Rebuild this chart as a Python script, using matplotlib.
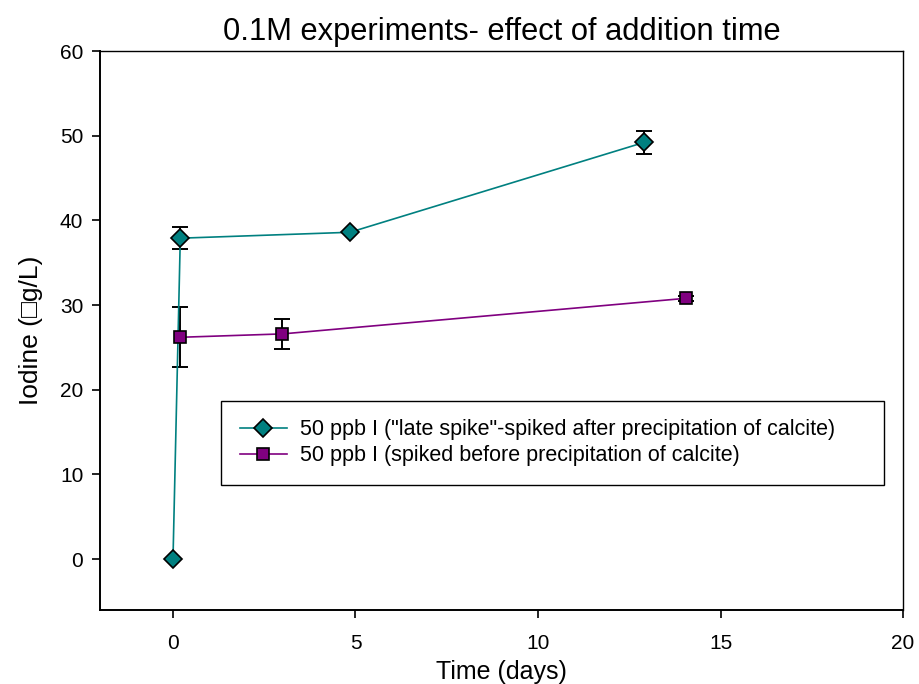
import matplotlib
matplotlib.use("Agg")
import matplotlib.pyplot as plt

plt.rcParams["font.family"] = ["Liberation Sans", "DejaVu Sans"]

# late spike series (teal diamonds)
late_t = [0.0, 0.2, 4.85, 12.9]
late_i = [0.0, 37.9, 38.6, 49.2]
late_err = [0.0, 1.3, 0.0, 1.4]

# spiked before precipitation (purple squares)
early_t = [0.2, 3.0, 14.05]
early_i = [26.2, 26.6, 30.8]
early_err = [3.55, 1.75, 0.3]

LATE_LABEL = '50 ppb I ("late spike"-spiked after precipitation of calcite)'
EARLY_LABEL = "50 ppb I (spiked before precipitation of calcite)"


def main():
    fig = plt.figure(figsize=(9.19, 6.84), dpi=100)
    ax = fig.add_axes([0.1088, 0.1082, 0.8738, 0.8172])

    ax.errorbar(late_t, late_i, yerr=late_err, fmt="none", ecolor="black",
                elinewidth=1.4, capsize=5.5, capthick=1.4, zorder=2)
    ax.errorbar(early_t, early_i, yerr=early_err, fmt="none", ecolor="black",
                elinewidth=1.4, capsize=5.5, capthick=1.4, zorder=2)
    ax.plot(late_t, late_i, color="#008080", lw=1.2, marker="D", ms=9,
            mfc="#008080", mec="black", mew=1.2, label=LATE_LABEL, zorder=3)
    ax.plot(early_t, early_i, color="#800080", lw=1.2, marker="s", ms=8.5,
            mfc="#800080", mec="black", mew=1.2, label=EARLY_LABEL, zorder=3)

    ax.set_xlim(-2, 20)
    ax.set_ylim(-6, 60)
    ax.set_xticks([0, 5, 10, 15, 20])
    ax.set_yticks([0, 10, 20, 30, 40, 50, 60])
    ax.tick_params(direction="out", labelsize=15, length=6, width=1.2)
    ax.tick_params(axis="x", pad=11)
    ax.tick_params(axis="y", pad=6)
    for s in ("left", "bottom"):
        ax.spines[s].set_linewidth(1.4)
    for s in ("top", "right"):
        ax.spines[s].set_linewidth(1.0)

    ax.set_title("0.1M experiments- effect of addition time", fontsize=22.2, pad=8)
    ax.set_xlabel("Time (days)", fontsize=18, labelpad=5)
    ax.set_ylabel("Iodine (\u25a1g/L)", fontsize=19, labelpad=12)

    leg = ax.legend(loc="lower left", bbox_to_anchor=(0.151, 0.224, 0.825, 0.15),
                    mode="expand", fontsize=15.5, frameon=True, fancybox=False,
                    edgecolor="black", framealpha=1, handlelength=2.2,
                    borderaxespad=0, borderpad=0.85, labelspacing=0.25,
                    handletextpad=0.6)
    leg.get_frame().set_linewidth(1.0)

    fig.savefig("out.png", dpi=100)


if __name__ == "__main__":
    main()
